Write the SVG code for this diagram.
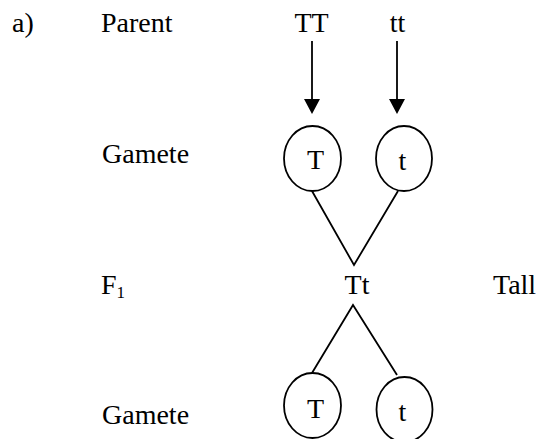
<svg xmlns="http://www.w3.org/2000/svg" width="540" height="439" viewBox="0 0 540 439">
<style>
text{font-family:"Liberation Serif","Times New Roman",serif;font-size:28px;fill:#000}
.e{fill:none;stroke:#000;stroke-width:1.8}
.l{stroke:#000;stroke-width:1.8;fill:none}
</style>
<rect width="540" height="439" fill="#fff"/>
<g id="labels">
<text x="12" y="32">a)</text>
<text x="101" y="32">Parent</text>
<text x="102" y="163">Gamete</text>
<text x="101" y="294">F<tspan font-size="17" dy="4">1</tspan></text>
<text x="493" y="294">Tall</text>
<text x="102" y="424">Gamete</text>
</g>
<g id="parent-TT"><text x="311.5" y="32" text-anchor="middle">TT</text></g>
<g id="parent-tt"><text x="397.5" y="32" text-anchor="middle">tt</text></g>
<g id="gamete-T1"><ellipse class="e" cx="312.5" cy="158.5" rx="28.5" ry="32.5"/><text x="315.5" y="169" text-anchor="middle">T</text></g>
<g id="gamete-t1"><ellipse class="e" cx="404" cy="158.5" rx="28" ry="32.5"/><text x="402.5" y="170" text-anchor="middle">t</text></g>
<g id="f1-Tt"><text x="357" y="294" text-anchor="middle">Tt</text></g>
<g id="gamete-T2"><ellipse class="e" cx="312.5" cy="405.5" rx="28.5" ry="32.5"/><text x="315.5" y="418" text-anchor="middle">T</text></g>
<g id="gamete-t2"><ellipse class="e" cx="404.5" cy="409.5" rx="28" ry="32.5"/><text x="402.5" y="421" text-anchor="middle">t</text></g>
<g id="connectors">
<line class="l" x1="312" y1="41" x2="312" y2="100"/>
<polygon points="304,99 320,99 312,114" fill="#000"/>
<line class="l" x1="397" y1="41" x2="397" y2="100"/>
<polygon points="389,99 405,99 397,114" fill="#000"/>
<polyline class="l" points="312,191 354,265 398,191"/>
<polyline class="l" points="312,373 353,305 397,375"/>
</g>
</svg>
